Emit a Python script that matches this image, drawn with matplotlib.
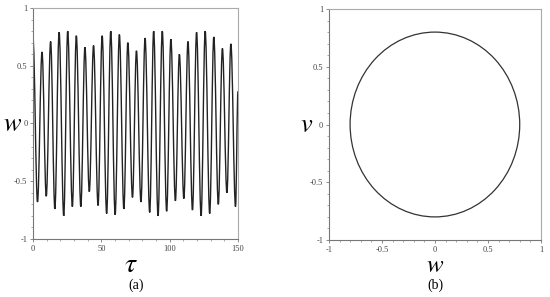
import numpy as np
import matplotlib
matplotlib.use("Agg")
import matplotlib.pyplot as plt
from matplotlib.patches import Ellipse, PathPatch
from matplotlib.path import Path
from matplotlib.ticker import MultipleLocator

# (a) w(tau): extrema
peak_tau = [0.0, 6.6, 12.9, 19.1, 25.4, 31.7, 38.0, 44.3, 50.6, 56.9, 63.2, 69.4,
            75.7, 82.0, 88.3, 94.6, 100.9, 107.1, 113.4, 119.7, 126.0, 132.3, 138.6, 144.8]
peak_w = [0.73, 0.62, 0.71, 0.79, 0.80, 0.76, 0.66, 0.675, 0.76, 0.80, 0.77, 0.70,
          0.63, 0.74, 0.80, 0.80, 0.73, 0.60, 0.71, 0.79, 0.80, 0.75, 0.65, 0.69]
trough_tau = [3.3, 9.7, 16.0, 22.5, 28.8, 35.0, 41.2, 47.6, 53.9, 60.1, 66.5, 72.8,
              79.0, 85.4, 91.5, 97.8, 104.2, 110.4, 116.7, 123.0, 129.3, 135.6, 141.9, 148.2]
trough_w = [-0.68, -0.63, -0.74, -0.80, -0.72, -0.72, -0.59, -0.71, -0.78, -0.79, -0.74, -0.64,
            -0.68, -0.77, -0.80, -0.76, -0.67, -0.65, -0.75, -0.80, -0.78, -0.70, -0.60, -0.72]
end_tau, end_w = 150.0, 0.28

# (b) phase orbit v(w): closed curve, center and half-widths
orbit_center = (0.0, 0.0)
orbit_w_radius = 0.80
orbit_v_radius = 0.80

tau = []
w = []
for i in range(len(peak_tau)):
    tau += [peak_tau[i], trough_tau[i]]
    w += [peak_w[i], trough_w[i]]
tau.append(end_tau)
w.append(end_w)

# smooth curve through the extrema: cubic bezier segments, flat at each extremum
verts = [(tau[0], w[0])]
codes = [Path.MOVETO]
for i in range(1, len(tau)):
    d = tau[i] - tau[i - 1]
    verts += [(tau[i - 1] + 0.364 * d, w[i - 1]), (tau[i] - 0.364 * d, w[i]), (tau[i], w[i])]
    codes += [Path.CURVE4] * 3

plt.rcParams['font.family'] = ['Liberation Serif', 'DejaVu Serif']
plt.rcParams['mathtext.fontset'] = 'stix'

fig = plt.figure(figsize=(5.5, 2.97), dpi=100)
ax1 = fig.add_axes([0.06, 0.1953, 0.3727, 0.7778])
ax2 = fig.add_axes([0.598, 0.1919, 0.3855, 0.7778])

ax1.add_patch(PathPatch(Path(verts, codes), fill=False, edgecolor='#222222', lw=1.0))
ax1.set_xlim(0, 150)
ax1.set_ylim(-1, 1)
ax1.set_xticks([0, 50, 100, 150])
ax1.set_xticklabels(['0', '50', '100', '150'])
ax1.xaxis.set_minor_locator(MultipleLocator(10))

orbit = Ellipse(orbit_center, 2 * orbit_w_radius, 2 * orbit_v_radius,
                fill=False, edgecolor='#333333', lw=0.9)
ax2.add_patch(orbit)
ax2.set_xlim(-1, 1)
ax2.set_ylim(-1, 1)
ax2.set_xticks([-1, -0.5, 0, 0.5, 1])
ax2.set_xticklabels(['-1', '-0.5', '0', '0.5', '1'])
ax2.xaxis.set_minor_locator(MultipleLocator(0.1))

for ax in (ax1, ax2):
    ax.set_yticks([-1, -0.5, 0, 0.5, 1])
    ax.set_yticklabels(['-1', '-0.5', '0', '0.5', '1'])
    ax.yaxis.set_minor_locator(MultipleLocator(0.1))
    ax.tick_params(which='major', direction='out', length=2.5, width=0.6,
                   color='#777777', labelsize=6, labelcolor='#444444', pad=1.5)
    ax.tick_params(which='minor', direction='out', length=1.5, width=0.5, color='#888888')
    ax.spines['left'].set_color('#777777')
    ax.spines['bottom'].set_color('#777777')
    ax.spines['top'].set_color('#aaaaaa')
    ax.spines['right'].set_color('#aaaaaa')
    for s in ax.spines.values():
        s.set_linewidth(0.8)

fig.text(0.022, 0.58, r'$w$', fontsize=19, ha='center', va='center')
fig.text(0.238, 0.105, r'$\tau$', fontsize=20, ha='center', va='center')
fig.text(0.247, 0.04, '(a)', fontsize=10, ha='center', va='center')
fig.text(0.557, 0.575, r'$v$', fontsize=19, ha='center', va='center')
fig.text(0.791, 0.103, r'$w$', fontsize=18, ha='center', va='center')
fig.text(0.791, 0.04, '(b)', fontsize=10, ha='center', va='center')

fig.savefig('out.png', dpi=100)
